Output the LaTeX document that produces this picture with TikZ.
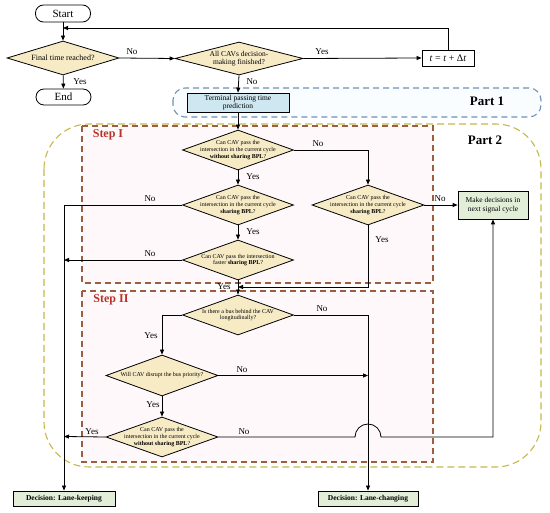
\documentclass[tikz,border=0pt]{standalone}
\usepackage{fontspec}
\setmainfont{Liberation Serif}
\usetikzlibrary{arrows.meta,shapes.geometric}
\definecolor{diafill}{HTML}{F7EBC6}
\definecolor{bluefill}{HTML}{CFE7F0}
\definecolor{greenfill}{HTML}{E3EED9}
\definecolor{steppink}{HTML}{FEF8FA}
\definecolor{stepborder}{HTML}{9C5E40}
\definecolor{steplabel}{HTML}{B8322A}
\definecolor{parttwo}{HTML}{C9B84A}
\definecolor{partone}{HTML}{6F93B5}
\begin{document}
\begin{tikzpicture}[x=1pt,y=-1pt,
  ln/.style={draw=black, line width=0.8pt},
  arr/.style={ln, -{Triangle[length=5pt,width=4pt]}},
  dia/.style 2 args={shape=diamond, draw=black, line width=0.8pt, fill=diafill,
    minimum width=#1, minimum height=#2, inner sep=0pt},
  diatext/.style={font=\fontsize{6}{6.8}\selectfont, align=center, inner sep=0pt},
  term/.style={draw, line width=0.8pt, rounded corners=8pt, minimum width=55pt,
    minimum height=17pt, inner sep=0pt, font=\fontsize{11}{12}\selectfont},
  greenbox/.style={draw, line width=0.8pt, fill=greenfill, inner sep=0pt,
    font=\fontsize{7.5}{8.5}\selectfont, align=center},
  lbl/.style={font=\fontsize{9}{10}\selectfont, inner sep=0pt},
  steptitle/.style={font=\bfseries\fontsize{12}{13}\selectfont, text=steplabel, inner sep=0pt},
  parttitle/.style={font=\bfseries\fontsize{13}{14}\selectfont, inner sep=0pt},
  stepbox/.style={draw=stepborder, fill=steppink, line width=1.1pt, dash pattern=on 6pt off 4pt},
]
\useasboundingbox (0,0) rectangle (550,513);
\fill[white] (0,0) rectangle (550,513);

% ---------- background frames ----------
\draw[draw=partone, fill=cyan!2, line width=1.1pt, dash pattern=on 6pt off 4pt, rounded corners=12pt]
  (173,88) rectangle (541,117);
\draw[draw=parttwo, line width=1.1pt, dash pattern=on 7pt off 4pt, rounded corners=45pt]
  (44,124) rectangle (541,467);
\draw[stepbox] (82,126) rectangle (433,283);
\draw[stepbox] (82,291) rectangle (433,462);

\node[parttitle] (p1) at (487,101) {Part 1};
\node[parttitle] (p2) at (485,140) {Part 2};
\node[steptitle] (s1) at (108,135) {Step I};
\node[steptitle] (s2) at (111,300) {Step II};

% ---------- nodes ----------
\node[term] (start) at (63,13.5) {Start};
\node[term, minimum height=16pt] (endn) at (63.5,97) {End};
\node[dia={112pt}{34pt}, label={[font=\fontsize{8}{9}\selectfont, inner sep=0pt]center:Final time reached?}] (d0) at (63,58) {};
\node[dia={128pt}{33pt}, label={[font=\fontsize{7.5}{8.3}\selectfont, align=center, inner sep=0pt]center:{All CAVs decision-\\making finished?}}] (da) at (239,58.5) {};
\node[draw, line width=0.8pt, minimum width=52pt, minimum height=16pt, inner sep=0pt,
  font=\fontsize{10}{11}\selectfont] (tb) at (448,58) {\textit{t} = \textit{t} + Δ\textit{t}};
\node[draw, line width=0.8pt, fill=bluefill, minimum width=102pt, minimum height=19pt, inner sep=0pt,
  font=\fontsize{7.5}{8.3}\selectfont, align=center] (tp) at (238,102.5) {Terminal passing time\\prediction};

\node[dia={111pt}{40pt}, label={[diatext]center:{Can CAV pass the\\intersection in the current cycle\\\textbf{without sharing BPL}?}}] (d1) at (238,150) {};
\node[dia={111pt}{40pt}, label={[diatext]center:{Can CAV pass the\\intersection in the current cycle\\\textbf{sharing BPL}?}}] (d2) at (238,205) {};
\node[dia={112pt}{40pt}, label={[diatext]center:{Can CAV pass the\\intersection in the current cycle\\\textbf{sharing BPL}?}}] (d3) at (368,205) {};
\node[dia={111pt}{40pt}, label={[diatext]center:{Can CAV pass the intersection\\faster \textbf{sharing BPL}?}}] (d4) at (238,260) {};
\node[dia={111pt}{40pt}, label={[diatext]center:{Is there a bus behind the CAV\\longitudinally?}}] (d5) at (238,315) {};
\node[dia={112pt}{41pt}, label={[diatext]center:{Will CAV disrupt the bus priority?}}] (d6) at (162,375.5) {};
\node[dia={112pt}{40pt}, label={[diatext]center:{Can CAV pass the\\intersection in the current cycle\\\textbf{without sharing BPL}?}}] (d7) at (162,437) {};

\node[greenbox, minimum width=70pt, minimum height=28pt] (md) at (493,205) {Make decisions in\\next signal cycle};
\node[greenbox, minimum width=102pt, minimum height=15pt, font=\bfseries\fontsize{7.5}{8.5}\selectfont] (lk) at (64,498.5) {Decision: Lane-keeping};
\node[greenbox, minimum width=100pt, minimum height=15pt, font=\bfseries\fontsize{7.5}{8.5}\selectfont] (lc) at (368,498.5) {Decision: Lane-changing};

\coordinate (loopR) at (448,28);
\coordinate (loopL) at (63,28);
\coordinate (d1r) at (368,150);
\coordinate (d3b) at (368,287);
\coordinate (d4b) at (238,287);
\coordinate (d2l) at (64,205);
\coordinate (d4l) at (64,260);
\coordinate (d7l) at (64,436.5);
\coordinate (d5r) at (368,315);
\coordinate (d5l) at (162,315);
\coordinate (d6r) at (368,375.5);
\coordinate (jmpA) at (355,437);
\coordinate (jmpB) at (381,437);
\coordinate (d7r) at (493,437);

% ---------- connectors ----------
\draw[arr] (start) -- (d0);
\draw[arr] (d0) -- (endn);
\draw[arr] (d0.east) -- (da.west);
\draw[arr] (da.east) -- (tb.west);
\draw[arr] (tb.north) -- (loopR) -- (loopL);
\draw[arr] (da.south) -- (tp.north);
\draw[arr] (tp.south) -- (d1.north);
\draw[arr] (d1.south) -- (d2.north);
\draw[arr] (d1.east) -- (d1r) -- (d3.north);
\draw[arr] (d3.east) -- (md.west);
\draw[arr] (d3.south) -- (d3b) -- (d4b);
\draw[ln] (d2.west) -- (d2l);
\draw[arr] (d2l) -- (lk.north);
\draw[arr] (d2.south) -- (d4.north);
\draw[arr] (d4.west) -- (d4l);
\draw[arr] (d4.south) -- (d5.north);
\draw[ln] (d5.east) -- (d5r);
\draw[arr] (d5r) -- (lc.north);
\draw[arr] (d5.west) -- (d5l) -- (d6.north);
\draw[arr] (d6.east) -- (d6r);
\draw[arr] (d6.south) -- (d7.north);
\draw[arr] (d7.west) -- (d7l);
\draw[arr] (d7.east) -- (jmpA) arc[start angle=180, end angle=0, radius=13pt] -- (d7r) -- (md.south);

% ---------- labels ----------
\node[lbl] (l1) at (132,52) {No};
\node[lbl] (l2) at (80,82) {Yes};
\node[lbl] (l3) at (252,82) {No};
\node[lbl] (l4) at (322,52) {Yes};
\node[lbl] (l5) at (253,177) {Yes};
\node[lbl] (l6) at (318,144) {No};
\node[lbl] (l7) at (150,199) {No};
\node[lbl] (l8) at (253,232) {Yes};
\node[lbl] (l9) at (150,254) {No};
\node[lbl] (l10) at (440,199) {No};
\node[lbl] (l11) at (382,240) {Yes};
\node[lbl] (l12) at (224,287) {Yes};
\node[lbl] (l13) at (322,309) {No};
\node[lbl] (l14) at (151,336) {Yes};
\node[lbl] (l15) at (242,370) {No};
\node[lbl] (l16) at (153,405) {Yes};
\node[lbl] (l17) at (92,432) {Yes};
\node[lbl] (l18) at (244,432) {No};
\end{tikzpicture}
\end{document}
